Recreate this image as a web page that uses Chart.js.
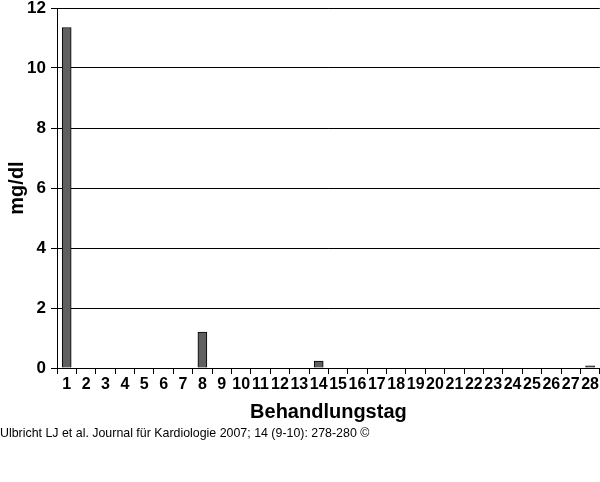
<!DOCTYPE html>
<html>
<head>
<meta charset="utf-8">
<script src="https://cdn.jsdelivr.net/npm/chart.js@4"></script>
<style>
  body { margin: 0; background: #fff; }
  #wrap { position: relative; width: 600px; height: 482px; }
  #note { position: absolute; left: 0; top: 426px; font: 12.4px "Liberation Sans", Arial, sans-serif; color: #000; }
</style>
</head>
<body>
<div id="wrap">
  <canvas id="myChart" width="600" height="482"></canvas>
  <div id="note">Ulbricht LJ et al. Journal für Kardiologie 2007; 14 (9-10): 278-280 ©</div>
</div>
<script>
var days = ["1","2","3","4","5","6","7","8","9","10","11","12","13","14","15","16","17","18","19","20","21","22","23","24","25","26","27","28"];
var values = [11.35,0,0,0,0,0,0,1.2,0,0,0,0,0,0.23,0,0,0,0,0,0,0,0,0,0,0,0,0,0.07];
var yTicks = [0, 2, 4, 6, 8, 10, 12];

var font = "'Liberation Sans', Arial, sans-serif";

var ctx = document.getElementById("myChart");
var myChart = new Chart(ctx, {
  type: "bar",
  data: {
    labels: days,
    datasets: [
      {
        label: "mg/dl",
        data: values,
        backgroundColor: "#606060",
        borderColor: "#000",
        borderWidth: 1,
        barThickness: 9,
      },
    ],
  },
  options: {
    responsive: false,
    animation: false,
    layout: { padding: { top: 8, right: 0, bottom: 54, left: 0 } },
    plugins: {
      legend: { display: false },
      tooltip: { enabled: false },
    },
    scales: {
      y: {
        min: 0,
        max: 12,
        afterBuildTicks: (s) => { s.ticks = yTicks.map((v) => ({ value: v })); },
        afterFit: (s) => { s.width = 57; s.paddingTop = 0; s.paddingBottom = 0; },
        border: { color: "#000", width: 1 },
        grid: { color: "#000", tickLength: 6, lineWidth: 1 },
        ticks: { color: "#000", padding: 5, font: { family: font, size: 17, weight: "bold" } },
        title: {
          display: true,
          text: "mg/dl",
          color: "#000",
          padding: { top: 5, bottom: 0 },
          font: { family: font, size: 20, weight: "bold" },
        },
      },
      x: {
        afterFit: (s) => { s.height = 60; },
        border: { color: "#000", width: 1 },
        grid: { drawOnChartArea: false, color: "#000", tickLength: 6, offset: true },
        ticks: { color: "#000", padding: 1, maxRotation: 0, autoSkip: false, font: { family: font, size: 16, weight: "bold" } },
        title: {
          display: true,
          text: "Behandlungstag",
          color: "#000",
          padding: { top: 2 },
          font: { family: font, size: 20, weight: "bold" },
        },
      },
    },
  },
});
</script>
</body>
</html>
